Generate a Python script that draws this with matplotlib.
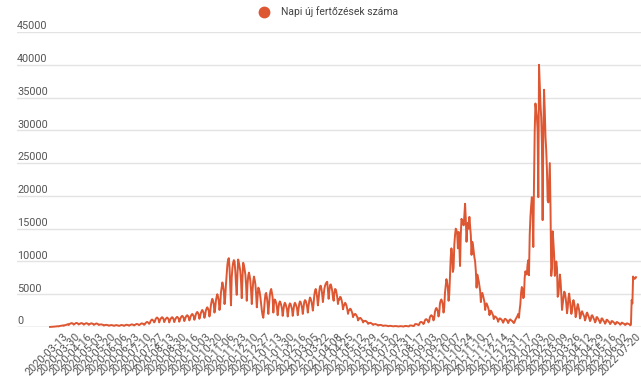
import numpy as np
import matplotlib
matplotlib.use("Agg")
import matplotlib.pyplot as plt
import matplotlib.transforms as mtransforms
from matplotlib.lines import Line2D

plt.rcParams["font.family"] = ["Roboto", "DejaVu Sans"]

series_name = "Napi új fertőzések száma"
line_color = "#de5733"

# x tengely feliratai (minden 17. sor)
date_labels = [
    "2020-03-13", "2020-03-30", "2020-04-16", "2020-05-03", "2020-05-20", "2020-06-06",
    "2020-06-23", "2020-07-10", "2020-07-27", "2020-08-13", "2020-08-30", "2020-09-16",
    "2020-10-03", "2020-10-20", "2020-11-06", "2020-11-23", "2020-12-10", "2020-12-27",
    "2021-01-13", "2021-01-30", "2021-02-16", "2021-03-05", "2021-03-22", "2021-04-08",
    "2021-04-25", "2021-05-12", "2021-05-29", "2021-06-15", "2021-07-02", "2021-07-31",
    "2021-08-17", "2021-09-03", "2021-09-20", "2021-10-07", "2021-10-24", "2021-11-10",
    "2021-11-27", "2021-12-14", "2021-12-31", "2022-01-17", "2022-02-03", "2022-02-20",
    "2022-03-09", "2022-03-26", "2022-04-12", "2022-04-29", "2022-05-16", "2022-06-02",
    "2022-07-20",
]

y_ticks = [0, 5000, 10000, 15000, 20000, 25000, 30000, 35000, 40000, 45000]

# napi esetszámok, szakaszonként
spring_summer_2020 = [
    10, 15, 20, 30, 40, 50, 60,
    70, 80, 100, 110, 120, 90, 140,
    160, 190, 210, 220, 240, 180, 260,
    280, 300, 350, 400, 420, 300, 450,
    500, 550, 600, 560, 500, 350, 450,
    520, 600, 620, 580, 500, 380, 480,
    500, 580, 600, 550, 480, 350, 450,
    500, 570, 590, 530, 460, 330, 430,
    480, 550, 560, 510, 450, 320, 400,
    450, 520, 540, 480, 420, 300, 380,
    380, 400, 390, 350, 300, 220, 280,
    300, 330, 320, 290, 260, 190, 240,
    260, 300, 290, 260, 230, 170, 220,
    250, 290, 280, 250, 220, 160, 210,
    260, 300, 300, 270, 240, 170, 230,
    290, 330, 340, 300, 270, 200, 260,
    330, 380, 400, 360, 320, 240, 300,
    380, 440, 460, 420, 380, 280, 350,
    450, 520, 560, 500, 450, 330, 420,
    600, 700, 780, 720, 650, 480, 600,
    900, 1050, 1150, 1050, 950, 700, 850,
    1200, 1350, 1450, 1350, 1200, 700, 1000,
    1250, 1400, 1500, 1400, 1250, 750, 1000,
    1200, 1350, 1450, 1350, 1200, 700, 1000,
    1250, 1400, 1500, 1400, 1200, 750, 1050,
    1300, 1450, 1550, 1450, 1300, 800, 1100,
    1400, 1600, 1700, 1600, 1400, 900, 1200,
    1500, 1700, 1800, 1700, 1500, 1000, 1300,
    1650, 1850, 2000, 1850, 1650, 1100, 1400,
    1900, 2150, 2300, 2150, 1900, 1250, 1600,
    2100, 2400, 2600, 2400, 2100, 1400, 1800,
    2500, 2800, 3000, 2800, 2500, 1600, 2200,
    3300, 3900, 4300, 4000, 3500, 2200, 2900,
    4000, 4600, 5000, 4600, 4000, 2600, 3400,
    5200, 6000, 6800, 6300, 5500, 3500, 4500,
]

autumn_2020 = [
    6500, 8000, 9500, 10300, 10500, 9000, 6000, 3300, 7500, 9000,
    9800, 10200, 10000, 8500, 6500, 4900, 8000, 10300, 9800, 9200,
    8500, 7000, 4400, 7500, 9800, 9400, 8800, 8000, 6500, 4000,
    6500, 7800, 8300, 7800, 7000, 5500, 3500, 5500, 7000, 7700,
    7200, 6500, 5000, 3000, 4500, 6000, 5800, 5300, 4500, 3500,
    2500, 1800, 1400, 2500, 4000, 5000, 5200, 4500, 3500, 2000,
    3500, 4800, 5500, 5800, 5200, 4500, 2200,
]

spring_2021 = [
    3800, 4200, 4000, 3600, 3000, 1800, 2800,
    3600, 3900, 3700, 3300, 2800, 1700, 2600,
    3400, 3700, 3500, 3100, 2700, 1600, 2500,
    3300, 3600, 3500, 3100, 2700, 1700, 2500,
    3400, 3700, 3500, 3200, 2800, 1800, 2700,
    3500, 3900, 3800, 3400, 2900, 2000, 2900,
    3800, 4100, 4000, 3600, 3100, 2200, 3200,
    4000, 4500, 4300, 3900, 3300, 2500, 3500,
    4800, 5500, 5800, 5300, 4500, 3300, 4200,
    5500, 6200, 6300, 5800, 5000, 3800, 4800,
    5800, 6300, 6600, 6800, 6900, 5500, 4300,
    5500, 6400, 6500, 6100, 5500, 4500, 4000,
    5200, 5800, 5700, 5200, 4500, 3500, 4200,
    4200, 4600, 4500, 4100, 3600, 2700, 3200,
    3400, 3700, 3500, 3200, 2700, 2000, 2500,
    2600, 2800, 2700, 2400, 2100, 1500, 1900,
    1900, 2000, 1900, 1700, 1500, 1000, 1300,
    1300, 1400, 1300, 1150, 1000, 700, 900,
    900, 950, 900, 800, 700, 480, 600,
    600, 650, 600, 520, 450, 320, 400,
    420, 450, 420, 370, 320, 230, 280,
    300, 320, 300, 260, 230, 160, 200,
    220, 230, 210, 190, 170, 120, 150,
    170, 180, 160, 150, 130, 100, 120,
    140, 150, 130, 120, 110, 80, 100,
    120, 130, 120, 110, 100, 70, 90,
    150, 160, 150, 140, 120, 90, 110,
    220, 240, 230, 210, 180, 130, 170,
    400, 450, 450, 420, 380, 270, 350,
    650, 750, 780, 720, 650, 450, 600,
    1000, 1150, 1200, 1100, 1000, 700, 900,
    1500, 1700, 1800, 1700, 1500, 1000, 1300,
    2300, 2700, 2900, 2700, 2400, 1600, 2100,
    3600, 4000, 4200, 3900, 3400, 2200, 3000,
    5200, 6200, 7300, 6800, 6000, 4000, 5000,
]

autumn_2021 = [
    8000, 10600, 12000, 11000, 8400, 9000, 12500, 14000, 15000, 14800,
    14200, 12000, 14500, 12500, 9300, 14000, 16500, 16200, 16000, 15500,
    17000, 18800, 16500, 13000, 15000, 15900, 15000, 16800, 15500, 14000,
    11000, 13000, 12500, 11500, 10600, 10000, 8500, 6000, 8000, 7500,
    7000, 6200, 5500, 3800, 5000, 5200, 4800, 4300, 3800, 2600,
    3500, 3600, 3300, 3000, 2600, 1800, 2400, 2500, 2300, 2000,
    1800, 1200, 1600, 1600, 1500, 1400, 1200, 800, 1100,
    1300, 1300, 1200, 1100, 900, 650, 900,
    1200, 1250, 1150, 1050, 850, 600, 850,
    1100, 1150, 1050, 950,
    900, 700, 600, 800, 1100, 1300,
]

omicron_2022 = [
    1500, 1700, 2000, 1400, 2600, 3500, 5200, 6100, 5800, 4400,
    4600, 7500, 8500, 8200, 8000, 9500, 10200, 7900, 14000, 16800,
    18500, 19800, 18000, 12200, 22000, 30000, 34100, 33000, 32100, 30000,
    19800, 40000, 37000, 34000, 32000, 28000, 16300, 30000, 36200, 33000,
    29000, 27000, 24000, 19300, 19000, 22000, 25000, 18000, 7800, 9000,
    14600, 13000, 11000, 7800, 8500, 10000, 9000, 4600, 5000, 6500,
    8000, 7000, 5000, 2600, 3500, 4500, 5400, 5200, 4500, 3500,
    2100, 3000, 4500, 5100, 4000, 3000, 2000, 2500, 3800, 4100,
    3600, 2800, 1500, 2000, 3000, 3500, 3000, 2500, 1300, 1600,
]

late_2022 = [
    2200, 2400, 2100, 1800, 1600, 1000, 1300,
    2000, 2200, 1900, 1600, 1300, 900, 1100,
    1700, 1800, 1600, 1300, 1100, 700, 900,
    1500, 1500, 1300, 1100, 900, 600, 800,
    1300, 1300, 1100, 900, 800, 500, 700,
    1100, 1100, 950, 800, 700, 450, 600,
    900, 900, 800, 700, 600, 400, 500,
    750, 750, 650, 600, 500, 350, 450,
    650, 650, 550, 500, 450, 300, 400,
    550, 550, 500, 450, 400, 250, 350,
]

# heti jelentések a végén
weekly_2022 = [4100, 3600, 7700, 7300, 7500, 7400, 7600]

napi = (spring_summer_2020 + autumn_2020 + spring_2021 + autumn_2021
        + omicron_2022 + late_2022 + weekly_2022)
n = len(napi)
rows = np.arange(n)

fig = plt.figure(figsize=(6.41, 3.85), dpi=100)
ax = fig.add_axes([17 / 641, 58 / 385, 624 / 641, 295 / 385])

ax.plot(rows, napi, color=line_color, linewidth=1.4, clip_on=False, zorder=3)

ax.set_xlim(-46, n + 6)
ax.set_ylim(0, 45000)

# rácsvonalak és y feliratok a vonalak fölött
ax.set_yticks(y_ticks)
ax.set_yticklabels([])
ax.grid(axis="y", color="#e3e3e3", linewidth=1.0, zorder=0)
ax.axhline(0, color="#cfcfcf", linewidth=1.0, zorder=1)
trans = mtransforms.blended_transform_factory(ax.transAxes, ax.transData)
off = mtransforms.ScaledTranslation(0, 0.5 / 72, fig.dpi_scale_trans)
for v in y_ticks:
    ax.text(0, v, str(v), transform=trans + off, ha="left", va="bottom",
            fontsize=7.8, color="#555555")

# x feliratok ferdén
tick_pos = np.linspace(18, n - 2, len(date_labels))
ax.set_xticks(tick_pos)
ax.set_xticklabels(date_labels, rotation=45, ha="right", rotation_mode="anchor",
                   fontsize=7.8, color="#555555")
ax.tick_params(axis="both", length=0)
ax.tick_params(axis="x", pad=3)

for s in ax.spines.values():
    s.set_visible(False)

handle = Line2D([0], [0], marker="o", linestyle="", markerfacecolor=line_color,
                markeredgecolor=line_color, markersize=7.5)
fig.legend([handle], [series_name], loc="center", bbox_to_anchor=(0.508, 0.969),
           frameon=False, fontsize=7.5, handletextpad=0.6, labelcolor="#444444")

fig.savefig("out.png", dpi=100)
